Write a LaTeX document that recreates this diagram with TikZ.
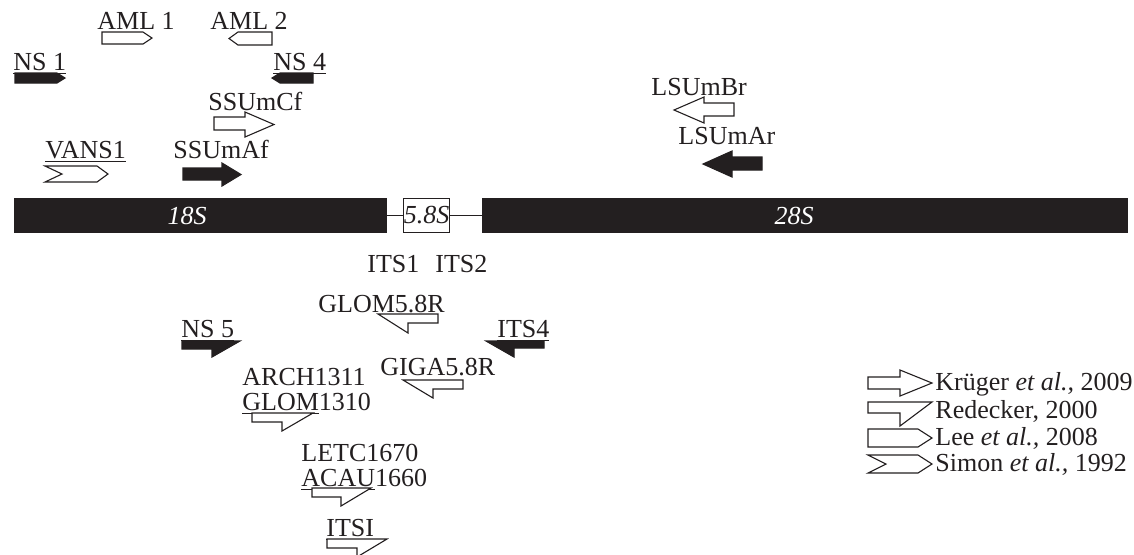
\documentclass[tikz,border=0pt]{standalone}
\usepackage{fontspec}
\setmainfont{Liberation Serif}
\definecolor{ink}{HTML}{231F20}
\begin{document}
\begin{tikzpicture}[x=0.5pt,y=-0.5pt,
  lbl/.style={anchor=base west,inner sep=0pt,text=ink,font=\fontsize{13}{15}\selectfont},
  open/.style={draw=ink,line width=0.55pt,fill=white,line join=miter},
  solid/.style={draw=ink,line width=0.55pt,fill=ink,line join=miter},
  gene/.style={fill=ink,draw=none}]
\useasboundingbox (0,0) rectangle (1134,554);
% rDNA bar
\fill[ink] (14,198) rectangle (387,233);
\fill[ink] (482,198) rectangle (1128,233);
\node[draw=ink,line width=0.55pt,fill=white,minimum width=21.5pt,minimum height=17pt,inner sep=0pt,
  font=\fontsize{13}{15}\selectfont\itshape,text=ink] (s58) at (426.5,215.5) {5.8S};
\coordinate (e18) at (387,215.5);
\coordinate (b28) at (482,215.5);
\draw[ink,line width=0.55pt] (e18) -- (s58.west);
\draw[ink,line width=0.55pt] (s58.east) -- (b28);
\node[font=\fontsize{13}{15}\selectfont\itshape,text=white,inner sep=0pt] (s18) at (187,216) {18S};
\node[font=\fontsize{13}{15}\selectfont\itshape,text=white,inner sep=0pt] (s28) at (794,216) {28S};
\node[lbl] (its1) at (367,272) {ITS1};
\node[lbl] (its2) at (435,272) {ITS2};
% Lee (pentagon) primers
\node[lbl] (aml1) at (97,29) {AML 1};
\draw[open] (102,32)--(143,32)--(152,38)--(143,44)--(102,44)--cycle;
\node[lbl] (aml2) at (210,29) {AML 2};
\draw[open] (272,32)--(238,32)--(229,38.5)--(238,45)--(272,45)--cycle;
\node[lbl] (ns1) at (13,70) {\underline{NS 1}};
\draw[solid] (15,73)--(57,73)--(65,78)--(57,83)--(15,83)--cycle;
\node[lbl] (ns4) at (273,70) {\underline{NS 4}};
\draw[solid] (313,73)--(280,73)--(272,78)--(280,83)--(313,83)--cycle;
% Kruger (block arrow) primers
\node[lbl] (ssumcf) at (208,110) {SSUmCf};
\draw[open] (214,117)--(245,117)--(245,112)--(274,124.5)--(245,137)--(245,130)--(214,130)--cycle;
\node[lbl] (ssumaf) at (173,158) {SSUmAf};
\draw[solid] (183,168)--(222,168)--(222,163)--(241,174.5)--(222,186)--(222,180)--(183,180)--cycle;
\node[lbl] (lsumbr) at (651,95) {LSUmBr};
\draw[open] (734,103)--(704,103)--(704,97)--(674,110)--(704,123)--(704,116)--(734,116)--cycle;
\node[lbl] (lsumar) at (678,144) {LSUmAr};
\draw[solid] (762,157)--(732,157)--(732,151)--(703,164)--(732,177)--(732,170)--(762,170)--cycle;
% Simon (chevron)
\node[lbl] (vans1) at (45,158) {\underline{VANS1}};
\draw[open] (45,166)--(97,166)--(108,174)--(97,182)--(45,182)--(62,174)--cycle;
% Redecker (flag) primers
\node[lbl] (glom58) at (318,312) {GLOM5.8R};
\draw[open] (378,314)--(438,314)--(438,323)--(408,323)--(408,333)--cycle;
\node[lbl] (its4) at (497,337) {\underline{ITS4}};
\draw[solid] (486,341)--(544,341)--(544,348)--(514,348)--(514,357)--cycle;
\node[lbl] (giga) at (380,375) {GIGA5.8R};
\draw[open] (403,380)--(463,380)--(463,389)--(433,389)--(433,398)--cycle;
\node[lbl] (ns5) at (181,337) {\underline{NS 5}};
\draw[solid] (182,341)--(240,341)--(212,357)--(212,349)--(182,349)--cycle;
\node[lbl] (arch) at (242,385) {ARCH1311};
\node[lbl] (glom13) at (242,410) {\underline{GLOM}1310};
\draw[open] (252,413)--(313,413)--(282,431)--(282,422)--(252,422)--cycle;
\node[lbl] (letc) at (301,461) {LETC1670};
\node[lbl] (acau) at (301,486) {\underline{ACAU}1660};
\draw[open] (312,488)--(371,488)--(341,506)--(341,497)--(312,497)--cycle;
\node[lbl] (itsi) at (326,536) {\underline{ITSI}};
\draw[open] (327,539)--(387,539)--(357,557)--(357,548)--(327,548)--cycle;
% legend
\node[lbl] (lk) at (935,390) {Krüger \textit{et al.,} 2009};
\draw[open] (868,377)--(900,377)--(900,370)--(932,383)--(900,396)--(900,389)--(868,389)--cycle;
\node[lbl] (lr) at (935,418) {Redecker, 2000};
\draw[open] (868,402)--(932,402)--(900,426)--(900,413)--(868,413)--cycle;
\node[lbl] (ll) at (935,445) {Lee \textit{et al.,} 2008};
\draw[open] (868,429)--(918,429)--(932,438)--(918,447)--(868,447)--cycle;
\node[lbl] (ls) at (935,471) {Simon \textit{et al.,} 1992};
\draw[open] (868,455)--(918,455)--(932,464)--(918,473)--(868,473)--(886,464)--cycle;
\end{tikzpicture}
\end{document}
